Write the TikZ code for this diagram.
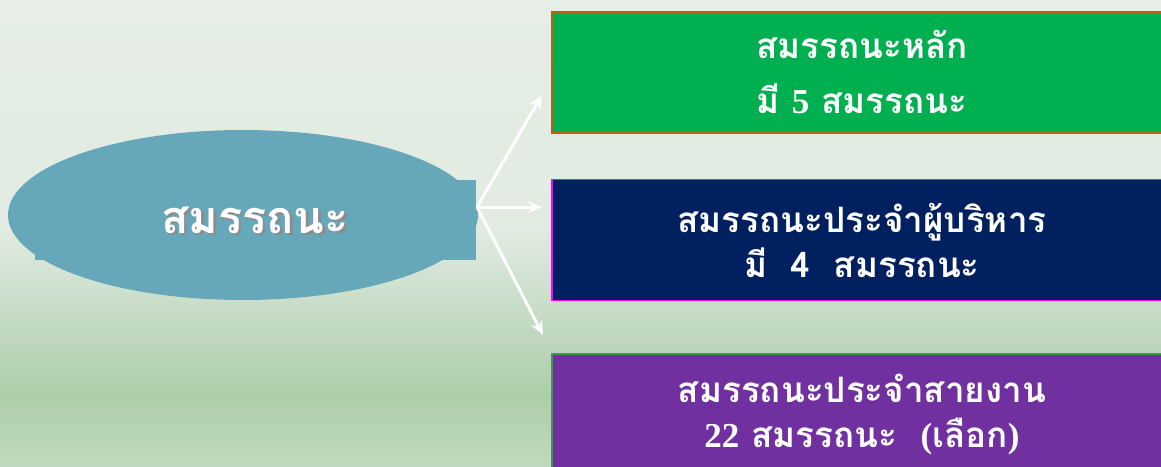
\documentclass[tikz,border=0pt]{standalone}
\usepackage{fontspec}
\newfontfamily\thaifont[Script=Thai]{Loma}
\newfontfamily\numfont{Liberation Serif}
\usetikzlibrary{arrows.meta,positioning,shapes.geometric}
\definecolor{bgtop}{HTML}{E6EEE6}
\definecolor{bgmid}{HTML}{E1EBE1}
\definecolor{bglow}{HTML}{CADECA}
\definecolor{bgdeep}{HTML}{ADCDAA}
\definecolor{bgfoot}{HTML}{C0D9BE}
\definecolor{ovalblue}{HTML}{66A7BA}
\definecolor{coregreen}{HTML}{00B050}
\definecolor{corerim}{HTML}{C55A11}
\definecolor{leadnavy}{HTML}{002060}
\definecolor{leadrim}{HTML}{FF00FF}
\definecolor{linepurple}{HTML}{7030A0}
\definecolor{linerim}{HTML}{3C9A50}
\pgfdeclareverticalshading{bgshade}{100bp}{color(0bp)=(bgfoot); color(25bp)=(bgfoot); color(32.6bp)=(bgdeep); color(42.8bp)=(bglow); color(50.3bp)=(bgmid); color(75bp)=(bgtop); color(100bp)=(bgtop)}
\newcommand{\nb}[1]{{\numfont #1}}
\begin{document}
\begin{tikzpicture}[
		x=0.5pt,y=-0.5pt,
		oval/.style={ellipse,fill=ovalblue,inner sep=0pt,minimum width=235pt,minimum height=85pt},
		patch/.style={rectangle,fill=ovalblue,inner sep=0pt,minimum width=220.5pt,minimum height=40pt},
		title/.style={font=\thaifont\bfseries\fontsize{22.5}{26}\selectfont,inner sep=0pt},
		box/.style={rectangle,minimum width=310pt,minimum height=60.5pt,inner sep=0pt,line width=0.8pt,text=white,align=center,font=\thaifont\bfseries\fontsize{17.5}{22.5}\selectfont},
		link/.style={draw=white,line width=1.5pt,-{Stealth[length=7pt,width=6pt]}}
	]
	\shade[shading=bgshade] (0,0) rectangle (1161,466);
	\useasboundingbox (0,0) rectangle (1161,466);
	\node[patch] (patch) at (255.5,220) {};
	\node[oval] (oval) at (243,215) {};
	\node[title,text=black!45] (titleshadow) at (257.5,222.5) {สมรรถนะ};
	\node[title,text=white] (title) at (255,220) {สมรรถนะ};
	\node[box,fill=coregreen,draw=corerim,font=\thaifont\bfseries\fontsize{17.5}{27.5}\selectfont] (core) at (862,72.5) {สมรรถนะหลัก\\มี \nb{5} สมรรถนะ};
	\node[box,fill=leadnavy,draw=leadrim,below=22.5pt of core] (lead) {สมรรถนะประจำผู้บริหาร\\มี~ 4~ สมรรถนะ};
	\node[box,fill=linepurple,draw=linerim,below=26pt of lead] (line) {สมรรถนะประจำสายงาน\\\nb{22} สมรรถนะ~ \nb{(}เลือก\nb{)}};
	\coordinate (hub) at (477,207);
	\coordinate (tipcore) at (542,95);
	\coordinate (tiplead) at (542,207);
	\coordinate (tipline) at (543,335);
	\foreach \t in {tipcore,tiplead,tipline}
		\draw[link] (hub) -- (\t);
\end{tikzpicture}
\end{document}
